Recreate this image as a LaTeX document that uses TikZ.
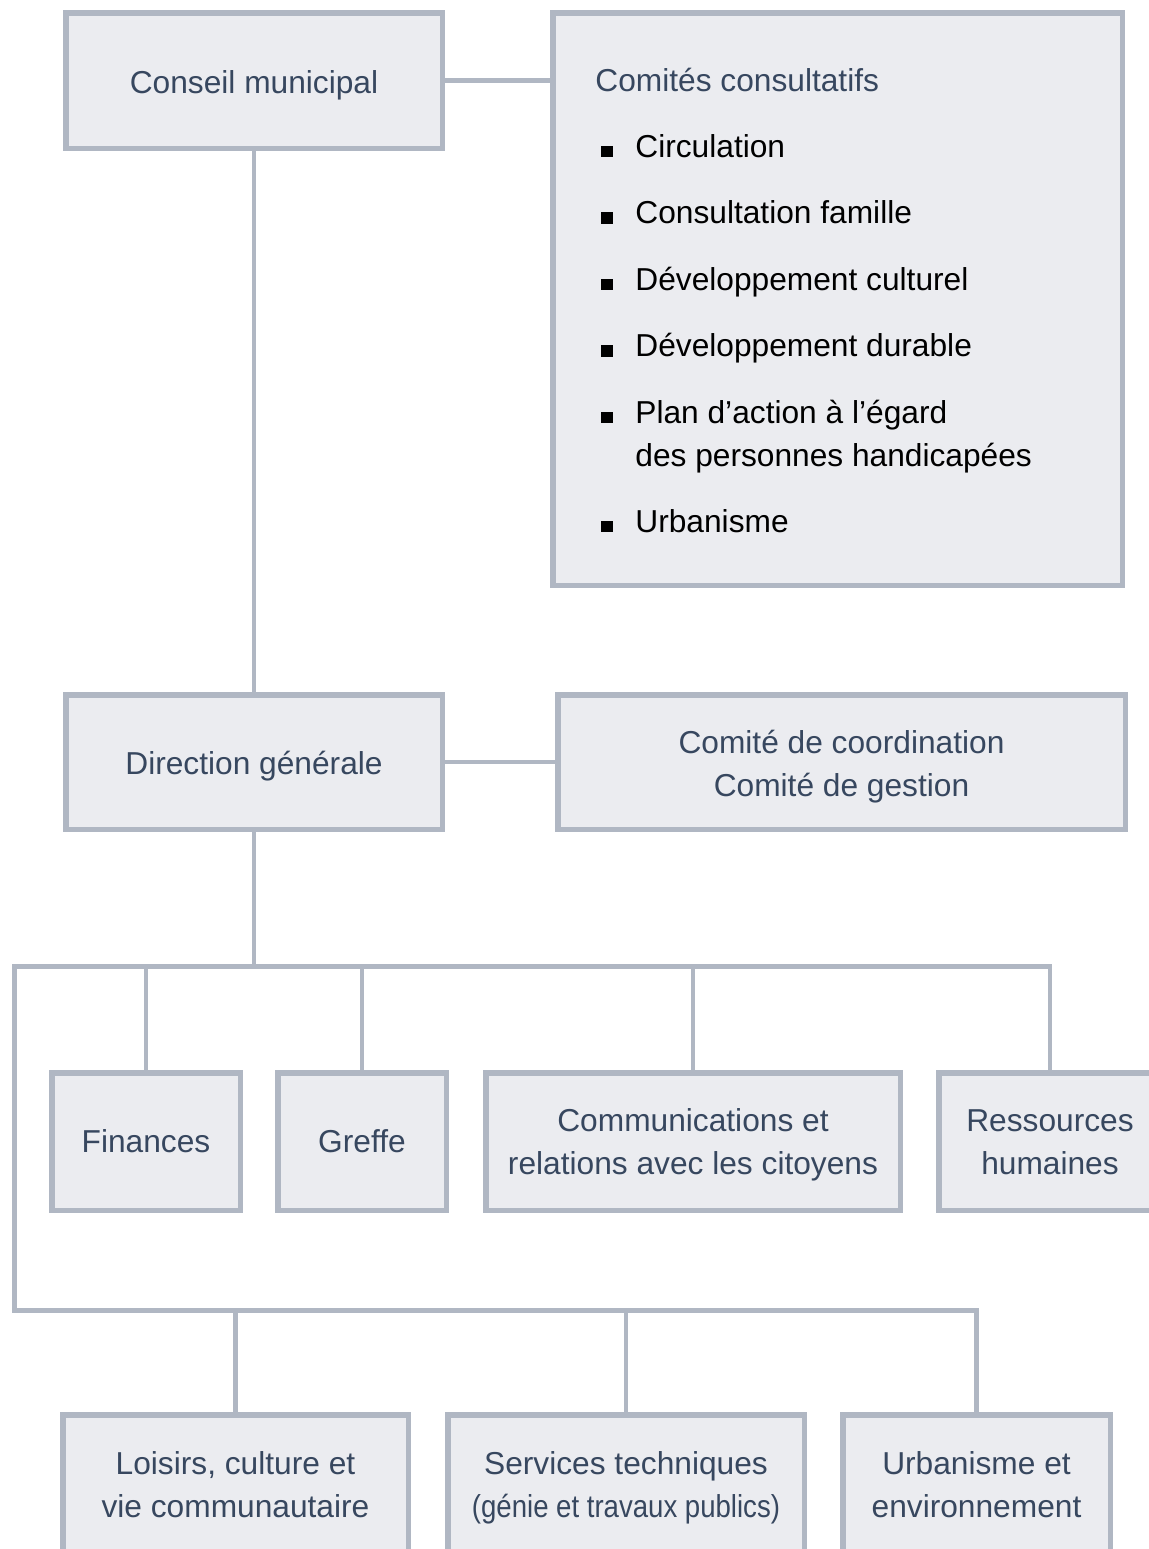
\documentclass[tikz,border=0pt]{standalone}
\usepackage{fontspec}
\setmainfont{Liberation Sans}
\usepackage{graphicx}
\definecolor{lineC}{HTML}{B0B7C3}
\definecolor{boxC}{HTML}{EBECF0}
\definecolor{txtC}{HTML}{37475F}
\newcommand{\mybul}{\rule{5.75pt}{5.75pt}\hspace{11.25pt}}
\newcommand{\lowr}[2]{\raisebox{-#1}[\height][\depth]{\begin{tabular}{@{}c@{}}#2\end{tabular}}}
\begin{document}
\begin{tikzpicture}[x=0.5pt,y=-0.5pt,
  box/.style={draw=lineC, fill=boxC, line width=2.75pt, text=txtC, align=center, inner sep=0pt, font=\fontsize{15.85}{21.5}\selectfont},
  conn/.style={draw=lineC, line width=2.25pt},
  item/.style={inner sep=0pt, anchor=base west, font=\fontsize{15.85}{21.5}\selectfont, text=black}]
\useasboundingbox (0,0) rectangle (1149,1549);
\clip (0,0) rectangle (1149,1549);
\fill[white] (0,0) rectangle (1149,1549);
% boxes
\node[box, minimum width=188.25pt, minimum height=67.75pt] (cm) at (254,80.5) {\lowr{2pt}{Conseil municipal}};
\node[box, minimum width=284.75pt, minimum height=286.25pt] (cc) at (837.5,299) {};
\node[box, minimum width=188.25pt, minimum height=67.25pt] (dg) at (254,762) {\lowr{2pt}{Direction générale}};
\node[box, minimum width=283.75pt, minimum height=67.25pt] (cg) at (841.5,762) {\lowr{2pt}{Comité de coordination\\Comité de gestion}};
\node[box, minimum width=94.25pt, minimum height=68.75pt] (fin) at (146,1141.5) {Finances};
\node[box, minimum width=84.25pt, minimum height=68.75pt] (gre) at (362,1141.5) {Greffe};
\node[box, minimum width=207.25pt, minimum height=68.75pt] (com) at (693,1141.5) {\lowr{1.5pt}{Communications et\\relations avec les citoyens}};
\node[box, minimum width=111.25pt, minimum height=68.75pt] (rh) at (1050,1141.5) {\lowr{1.5pt}{Ressources\\humaines}};
\node[box, minimum width=172.75pt, minimum height=68.75pt] (loi) at (235.5,1483.5) {\lowr{2pt}{Loisirs, culture et\\vie communautaire}};
\node[box, minimum width=178.25pt, minimum height=68.75pt] (ser) at (626,1483.5) {\lowr{2pt}{Services techniques\\\scalebox{0.87}[1]{(génie et travaux publics)}}};
\node[box, minimum width=133.75pt, minimum height=68.75pt] (urb) at (976.5,1483.5) {\lowr{2pt}{Urbanisme et\\environnement}};
% committee list
\node[item, text=txtC] (cch) at (595,91) {Comités consultatifs};
\node[item] (i1) at (601,157) {\mybul Circulation};
\node[item] (i2) at (601,223.5) {\mybul Consultation famille};
\node[item] (i3) at (601,290) {\mybul Développement culturel};
\node[item] (i4) at (601,356.5) {\mybul Développement durable};
\node[item] (i5) at (601,423) {\mybul Plan d’action à l’égard};
\node[item] (i5b) at (635,466) {des personnes handicapées};
\node[item] (i6) at (601,532) {\mybul Urbanisme};
% connectors
\coordinate (busL) at (14.5,966.5);
\coordinate (botL) at (14.5,1310.5);
\draw[conn] (cm.east) -- (cm.east -| cc.west);
\draw[conn] (cm.south) -- (dg.north);
\draw[conn] (dg.east) -- (dg.east -| cg.west);
\draw[conn] (dg.south) -- (dg.south |- busL);
\draw[conn] (rh.north) |- (busL) -- (botL) -| (urb.north);
\draw[conn] (fin.north) -- (fin.north |- busL);
\draw[conn] (gre.north) -- (gre.north |- busL);
\draw[conn] (com.north) -- (com.north |- busL);
\draw[conn] (loi.north) -- (loi.north |- botL);
\draw[conn] (ser.north) -- (ser.north |- botL);
\end{tikzpicture}
\end{document}
